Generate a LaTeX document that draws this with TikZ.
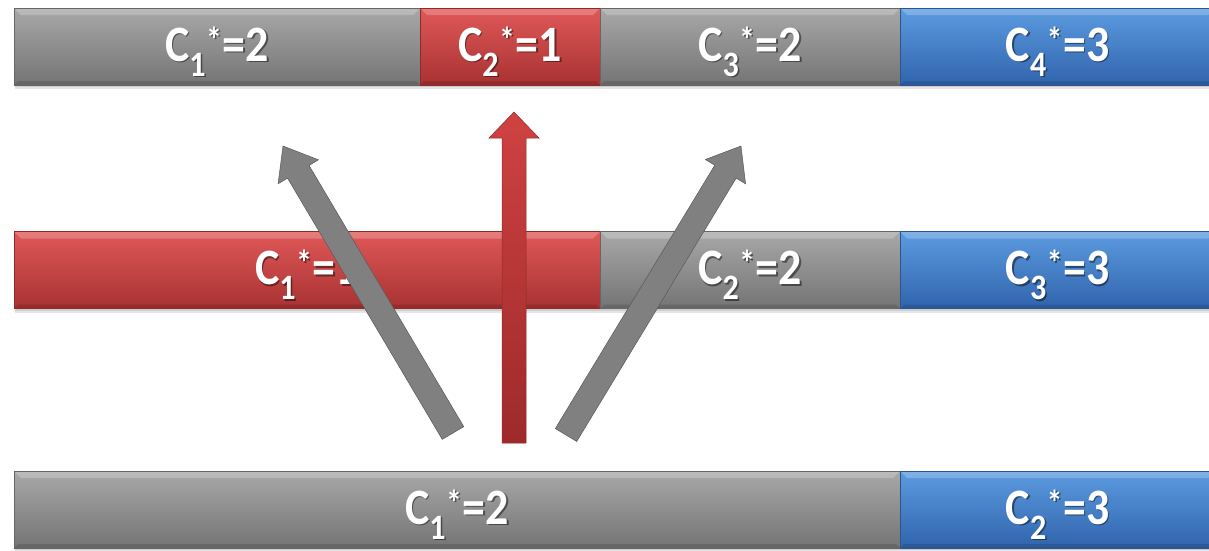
\documentclass[tikz,border=0pt]{standalone}
\usepackage{fontspec}
\setmainfont{Carlito}
\usetikzlibrary{calc}
\definecolor{greylight}{HTML}{A8A8A8}
\definecolor{greybase}{HTML}{8A8A8A}
\definecolor{greydark}{HTML}{747474}
\definecolor{greyline}{HTML}{666666}
\definecolor{redlight}{HTML}{E05858}
\definecolor{redbase}{HTML}{C63E3E}
\definecolor{reddark}{HTML}{A83232}
\definecolor{redline}{HTML}{8E2A2A}
\definecolor{bluelight}{HTML}{5C9BE0}
\definecolor{bluebase}{HTML}{3F7ECB}
\definecolor{bluedark}{HTML}{3064AC}
\definecolor{blueline}{HTML}{2A5590}
\definecolor{arrowgrey}{HTML}{808080}
\definecolor{arrowredtop}{HTML}{CF4242}
\definecolor{arrowredbot}{HTML}{9E2A2A}
\tikzset{
  bar/.style={rectangle, inner sep=0pt, minimum height=77pt, line width=0.6pt,
    draw=#1line, top color=#1light, middle color=#1base, bottom color=#1dark,
    path picture={
      \fill[white,opacity=.22] (path picture bounding box.north west)
        -- (path picture bounding box.north east)
        -- ([xshift=-7pt,yshift=-7pt]path picture bounding box.north east)
        -- ([xshift=7pt,yshift=-7pt]path picture bounding box.north west) -- cycle;
      \fill[black,opacity=.12] (path picture bounding box.south west)
        -- (path picture bounding box.south east)
        -- ([xshift=-4pt,yshift=4pt]path picture bounding box.south east)
        -- ([xshift=4pt,yshift=4pt]path picture bounding box.south west) -- cycle;
    }},
  lbl/.style={inner sep=0pt, text=white, font=\bfseries\fontsize{51}{51}\selectfont},
  greyarrow/.style={fill=arrowgrey, draw=black!65, line width=0.5pt},
  redarrow/.style={top color=arrowredtop, bottom color=arrowredbot, draw=redline, line width=0.5pt},
}
\newcommand\barseg[6]{%
  \node[bar=#5, minimum width={#3pt-#2pt}] (#1) at ({(#2+#3)/2},#4) {};
  \node[lbl, text=black, opacity=.45] (#1-s) at ([xshift=1.5pt,yshift=-6.5pt]#1.center) {\scalebox{0.9}[1]{#6}};
  \node[lbl] (#1-t) at ([yshift=-5pt]#1.center) {\scalebox{0.9}[1]{#6}};
}
\newcommand\fatarrow[5]{%
  \coordinate (#1-b) at ($(#1-h)!#5!(#1-t)$);
  \path[#2] ($(#1-t)!#3!90:(#1-h)$) -- ($(#1-b)!#3!-90:(#1-t)$) -- ($(#1-b)!#4!-90:(#1-t)$)
    -- (#1-h) -- ($(#1-b)!#4!90:(#1-t)$) -- ($(#1-b)!#3!90:(#1-t)$) -- ($(#1-t)!#3!-90:(#1-h)$) -- cycle;
}
\begin{document}
\begin{tikzpicture}[x=1pt,y=-1pt]
\useasboundingbox (0,0) rectangle (1209,550);
% soft shadows under rows
\foreach \yt in {8,232,471} {
  \fill[black,opacity=.10] (15,\yt+4) rectangle (1215,\yt+81);
  \fill[black,opacity=.10] (15,\yt+2) rectangle (1215,\yt+79);
}
% top row
\barseg{a1}{14}{420}{46.5}{grey}{C\textsubscript{1}\textsuperscript{*}=2}
\barseg{a2}{420}{600}{46.5}{red}{C\textsubscript{2}\textsuperscript{*}=1}
\barseg{a3}{600}{900}{46.5}{grey}{C\textsubscript{3}\textsuperscript{*}=2}
\barseg{a4}{900}{1215}{46.5}{blue}{C\textsubscript{4}\textsuperscript{*}=3}
% middle row
\barseg{b1}{14}{600}{270}{red}{C\textsubscript{1}\textsuperscript{*}=1}
\barseg{b2}{600}{900}{270}{grey}{C\textsubscript{2}\textsuperscript{*}=2}
\barseg{b3}{900}{1215}{270}{blue}{C\textsubscript{3}\textsuperscript{*}=3}
% bottom row
\barseg{c1}{14}{900}{509.5}{grey}{C\textsubscript{1}\textsuperscript{*}=2}
\barseg{c2}{900}{1215}{509.5}{blue}{C\textsubscript{2}\textsuperscript{*}=3}
% arrows
\coordinate (l-t) at (453,433);
\coordinate (l-h) at (283,146);
\coordinate (r-t) at (566,435);
\coordinate (r-h) at (741,146);
\coordinate (m-t) at (514,443);
\coordinate (m-h) at (514,112);
\fatarrow{l}{greyarrow}{12.5pt}{23.5pt}{30pt}
\fatarrow{r}{greyarrow}{12.5pt}{23.5pt}{30pt}
\fatarrow{m}{redarrow}{12pt}{25pt}{26pt}
\end{tikzpicture}
\end{document}
